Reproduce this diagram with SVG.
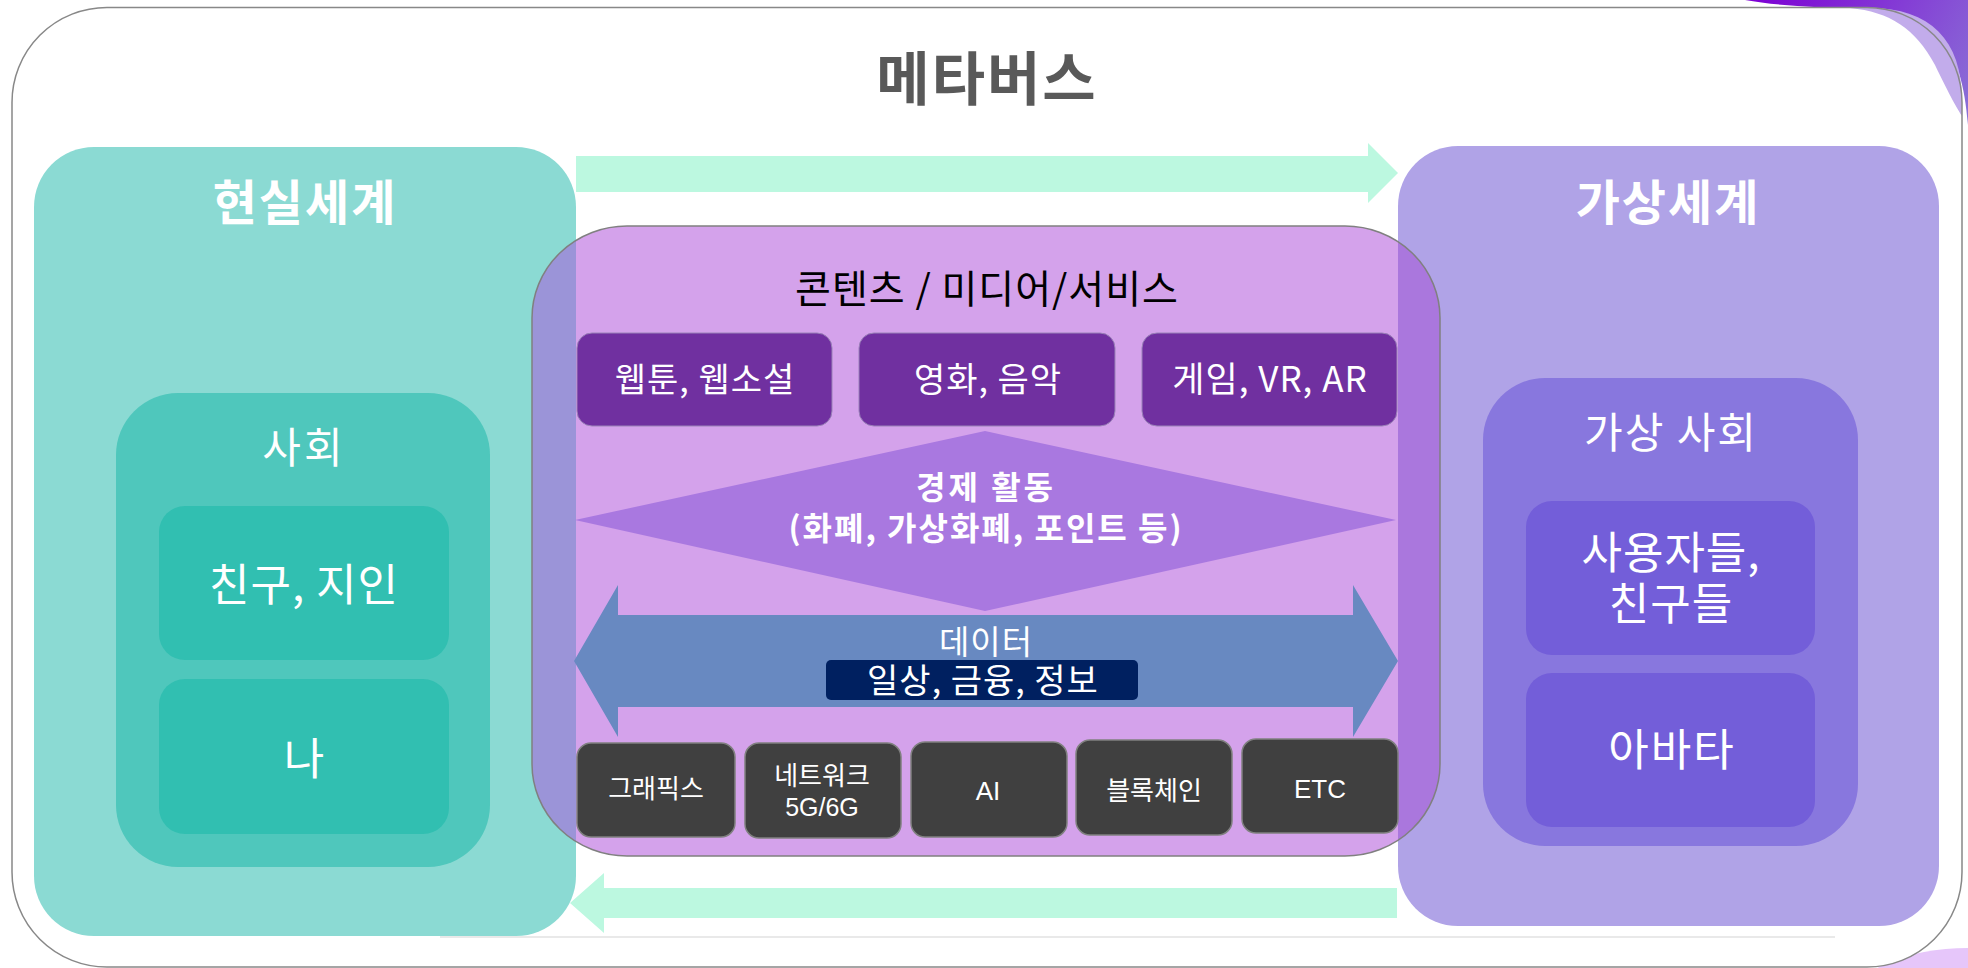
<svg xmlns="http://www.w3.org/2000/svg" width="1968" height="968" viewBox="0 0 1968 968">
<defs>
<linearGradient id="gPurple" x1="1750" y1="0" x2="1968" y2="125" gradientUnits="userSpaceOnUse">
<stop offset="0" stop-color="#7d00d4"/>
<stop offset="1" stop-color="#8a72d6"/>
</linearGradient>
<clipPath id="cCenter"><rect x="532" y="226" width="908" height="630" rx="95" ry="92"/></clipPath>
<style>
.k{font-family:"Noto Sans CJK KR","Noto Sans",sans-serif;fill:#fff;text-anchor:middle}
.b{font-weight:bold}
.l{font-family:"Liberation Sans","Noto Sans CJK KR",sans-serif;fill:#fff;text-anchor:middle}
.mint{fill:#bcf8e0}
.pbox{fill:#7030a0;stroke:#9a82b8;stroke-width:1}
.dbox{fill:#404040;stroke:#808080;stroke-width:1.5}
</style>
</defs>
<rect width="1968" height="968" fill="#fff"/>
<!-- decorations -->
<path d="M1745,0 Q1790,8 1865,8 C1935,10 1962,45 1968,125 L1968,0 Z" fill="url(#gPurple)"/>
<ellipse cx="1968" cy="1000" rx="115" ry="52" fill="#e6c6fa"/>
<g id="frame">
<rect x="12" y="7.5" width="1950" height="959.5" rx="95" ry="95" fill="#fff"/>
<path d="M1850,8 C1890,12 1915,28 1935,65 C1948,92 1955,105 1962,116 L1962,100 C1962,40 1930,8 1870,8 Z" fill="#c2aceb"/>
<rect x="12" y="7.5" width="1950" height="959.5" rx="95" ry="95" fill="none" stroke="#888" stroke-width="1.5"/>
<line x1="440" y1="937" x2="1835" y2="937" stroke="#e2e2e2" stroke-width="1.5"/>
<text x="987" y="100" font-family="Noto Sans CJK KR, sans-serif" font-size="58" font-weight="bold" letter-spacing="2" fill="#595959" text-anchor="middle">메타버스</text>
</g>
<g id="real-world">
<rect x="34" y="147" width="542" height="789" rx="60" fill="#8bdad3"/>
<text class="k b" x="305" y="220" font-size="48" letter-spacing="2">현실세계</text>
</g>
<g id="virtual-world">
<rect x="1398" y="146" width="541" height="780" rx="60" fill="#b0a3e7"/>
<text class="k b" x="1668" y="220" font-size="48" letter-spacing="2">가상세계</text>
</g>
<g id="society">
<rect x="116" y="393" width="374" height="474" rx="62" fill="#4fc7bc"/>
<text class="k" x="304" y="463" font-size="42" letter-spacing="3">사회</text>
</g>
<g id="friends">
<rect x="159" y="506" width="290" height="154" rx="26" fill="#31bfb1"/>
<text class="k" x="304" y="601" font-size="44" letter-spacing="1">친구, 지인</text>
</g>
<g id="me">
<rect x="159" y="679" width="290" height="155" rx="26" fill="#31bfb1"/>
<text class="k" x="304" y="775" font-size="44">나</text>
</g>
<g id="virtual-society">
<rect x="1483" y="378" width="375" height="468" rx="62" fill="#8877de"/>
<text class="k" x="1671" y="448" font-size="42" letter-spacing="2">가상 사회</text>
</g>
<g id="users">
<rect x="1526" y="501" width="289" height="154" rx="26" fill="#735ed9"/>
<text class="k" x="1671" y="569" font-size="44" letter-spacing="1">사용자들,</text>
<text class="k" x="1671" y="620" font-size="44" letter-spacing="1">친구들</text>
</g>
<g id="avatar">
<rect x="1526" y="673" width="289" height="154" rx="26" fill="#735ed9"/>
<text class="k" x="1672" y="766" font-size="44" letter-spacing="2">아바타</text>
</g>
<g id="connectors">
<polygon class="mint" points="576,156 1368,156 1368,143 1398,173 1368,203 1368,192 576,192"/>
<polygon class="mint" points="1397,888 604,888 604,873 570,903 604,933 604,918 1397,918"/>
</g>
<g id="contents-media-service">
<rect x="532" y="226" width="908" height="630" rx="95" ry="92" fill="#d4a2eb"/>
<g clip-path="url(#cCenter)">
<rect x="532" y="226" width="44" height="630" fill="#9b94d8"/>
<rect x="1398" y="226" width="42" height="630" fill="#aa77dd"/>
</g>
<rect x="532" y="226" width="908" height="630" rx="95" ry="92" fill="none" stroke="#808080" stroke-width="1.5"/>
<text x="987" y="303" font-family="Noto Sans CJK KR, sans-serif" font-size="39" letter-spacing="1" fill="#000" text-anchor="middle">콘텐츠 / 미디어/서비스</text>
</g>
<g id="webtoon">
<rect class="pbox" x="577" y="333" width="255" height="93" rx="15"/>
<text class="k" x="705" y="392" font-size="34" letter-spacing="1">웹툰, 웹소설</text>
</g>
<g id="movie-music">
<rect class="pbox" x="859" y="333" width="256" height="93" rx="15"/>
<text class="k" x="988" y="392" font-size="34" letter-spacing="1">영화, 음악</text>
</g>
<g id="game-vr-ar">
<rect class="pbox" x="1142" y="333" width="255" height="93" rx="15"/>
<text class="k" x="1270" y="392" font-size="35" letter-spacing="1">게임, VR, AR</text>
</g>
<g id="economy">
<polygon points="985,431 1396,520 985,611 575,520" fill="#a978e0"/>
<text class="k b" x="986" y="499" font-size="32" letter-spacing="3">경제 활동</text>
<text class="k b" x="986" y="540" font-size="32" letter-spacing="2">(화폐, 가상화폐, 포인트 등)</text>
</g>
<g id="data">
<polygon points="574,661 618,585 618,615 1353,615 1353,585 1398,661 1353,737 1353,707 618,707 618,737" fill="#6889c1"/>
<text class="k" x="986" y="654" font-size="33" letter-spacing="1">데이터</text>
</g>
<g id="data-detail">
<rect x="826" y="660" width="312" height="40" rx="5" fill="#002060"/>
<text class="k" x="983" y="693" font-size="34" letter-spacing="1">일상, 금융, 정보</text>
</g>
<g id="graphics">
<rect class="dbox" x="577" y="743" width="158" height="94" rx="14"/>
<text class="k" x="656" y="798" font-size="26">그래픽스</text>
</g>
<g id="network">
<rect class="dbox" x="745" y="743" width="156" height="95" rx="14"/>
<text class="k" x="822" y="785" font-size="26">네트워크</text>
<text class="l" x="822" y="816" font-size="25">5G/6G</text>
</g>
<g id="ai">
<rect class="dbox" x="911" y="742" width="156" height="95" rx="14"/>
<text class="l" x="988" y="800" font-size="26">AI</text>
</g>
<g id="blockchain">
<rect class="dbox" x="1076" y="740" width="156" height="95" rx="14"/>
<text class="k" x="1154" y="800" font-size="26">블록체인</text>
</g>
<g id="etc">
<rect class="dbox" x="1242" y="739" width="156" height="94" rx="14"/>
<text class="l" x="1320" y="798" font-size="26">ETC</text>
</g>
</svg>
